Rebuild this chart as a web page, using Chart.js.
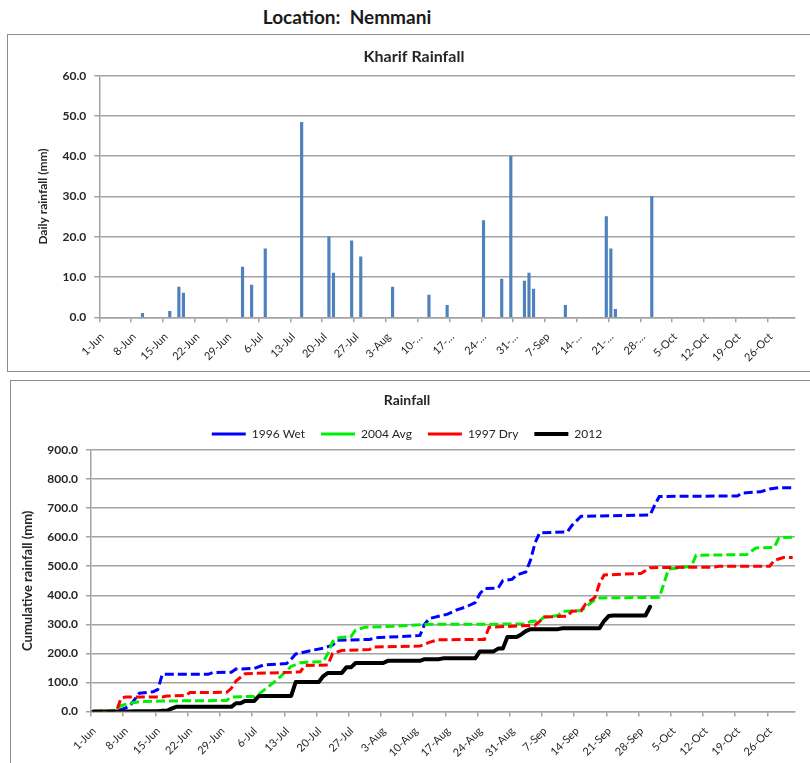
<!DOCTYPE html>
<html>
<head>
<meta charset="utf-8">
<title>Location: Nemmani</title>
<script src="https://cdn.jsdelivr.net/npm/chart.js@4.4.0/dist/chart.umd.min.js"></script>
<style>
    body { margin: 0; width: 810px; height: 763px; overflow: hidden; position: relative; background: #fff; font-family: Lato, sans-serif; }
    #location { position: absolute; left: 0; top: 5px; width: 694px; text-align: center; font-weight: bold; font-size: 19px; color: #1a1a1a; }
    .panel { position: absolute; box-sizing: border-box; border: 1px solid #8c8c8c; }
    #topPanel { left: 7px; top: 34px; width: 830px; height: 338px; }
    #bottomPanel { left: 10px; top: 380px; width: 830px; height: 420px; }
    canvas { position: absolute; }
</style>
</head>
<body>
<div id="location">Location:&nbsp; Nemmani</div>
<div class="panel" id="topPanel"></div>
<div class="panel" id="bottomPanel"></div>
<canvas id="dailyChart" width="802" height="336" style="left:8px; top:35px"></canvas>
<canvas id="cumulativeChart" width="799" height="382" style="left:11px; top:381px"></canvas>
<script>
// x values are days after 1-Jun (1-Jun = 0), season runs to 31-Oct
const dailyTickLabels = ['1-Jun', '8-Jun', '15-Jun', '22-Jun', '29-Jun', '6-Jul', '13-Jul', '20-Jul', '27-Jul', '3-Aug',
    '10-…', '17-…', '24-…', '31-…', '7-Sep', '14-…', '21-…', '28-…', '5-Oct', '12-Oct', '19-Oct', '26-Oct'];
const cumTickLabels = ['1-Jun', '8-Jun', '15-Jun', '22-Jun', '29-Jun', '6-Jul', '13-Jul', '20-Jul', '27-Jul', '3-Aug',
    '10-Aug', '17-Aug', '24-Aug', '31-Aug', '7-Sep', '14-Sep', '21-Sep', '28-Sep', '5-Oct', '12-Oct', '19-Oct', '26-Oct'];

// 2012 daily rainfall (mm)
const rainDay2012 = [9, 15, 17, 18, 31, 33, 36, 44, 50, 51, 55, 57, 64, 72, 76, 84, 88, 90, 93, 94, 95, 102, 111, 112, 113, 121];
const rainMm2012 = [1.0, 1.5, 7.5, 6.0, 12.5, 8.0, 17.0, 48.4, 20.0, 11.0, 19.0, 15.0, 7.5, 5.5, 3.0, 24.0, 9.5, 40.0, 9.0, 11.0, 7.0, 3.0, 25.0, 17.0, 2.0, 30.0];

// cumulative rainfall (mm), read at the corners of each curve
const wet1996Day = [0, 5, 7, 8, 10, 13, 14, 15, 25, 26, 30, 31, 35, 37, 42, 43, 44, 46, 48, 50, 52, 53, 60, 62, 67, 71, 72, 73, 77, 79,
    81, 83, 84, 85, 88, 89, 91, 92, 94, 95, 96, 97, 103, 104, 106, 121, 122, 123, 140, 141, 145, 147, 149, 152];
const wet1996Cum = [0, 0, 12, 20, 63, 68, 75, 128, 128, 134, 135, 146, 148, 160, 165, 180, 198, 205, 212, 218, 228, 245, 248, 255, 258, 262, 300, 320, 335, 350,
    360, 375, 405, 423, 425, 450, 455, 470, 480, 520, 580, 615, 618, 640, 672, 676, 710, 740, 742, 752, 756, 766, 770, 770];

const avg2004Day = [0, 3, 5, 6, 8, 10, 15, 29, 30, 35, 36, 38, 40, 41, 43, 45, 50, 51, 52, 53, 56, 57, 59, 65, 73, 94, 95, 97, 98, 101,
    102, 106, 107, 109, 110, 123, 124, 125, 130, 131, 142, 144, 148, 149, 152];
const avg2004Cum = [0, 2, 5, 20, 28, 34, 36, 38, 50, 52, 60, 85, 110, 125, 155, 168, 172, 200, 240, 253, 258, 280, 290, 293, 300, 301, 310, 312, 325, 330,
    345, 347, 360, 385, 391, 393, 440, 490, 500, 538, 540, 563, 565, 598, 600];

const dry1997Day = [0, 5, 6, 7, 15, 16, 20, 21, 29, 30, 31, 33, 43, 45, 46, 51, 52, 54, 60, 61, 71, 73, 75, 85, 86, 96, 97, 98, 103, 104,
    106, 107, 109, 110, 111, 119, 121, 135, 136, 147, 148, 150, 152];
const dry1997Cum = [0, 0, 45, 50, 50, 53, 55, 65, 66, 80, 105, 130, 135, 137, 158, 160, 200, 210, 213, 222, 225, 238, 247, 248, 290, 297, 310, 325, 328, 345,
    347, 370, 392, 440, 470, 475, 495, 497, 500, 500, 520, 530, 530];

const cum2012Day = [0, 8, 9, 14, 15, 16, 17, 18, 30, 31, 32, 33, 35, 36, 43, 44, 49, 50, 51, 54, 55, 56, 57, 63, 64, 71, 72, 75, 76, 83,
    84, 87, 88, 89, 90, 92, 93, 94, 95, 101, 102, 110, 111, 112, 113, 120, 121];
const cum2012 = [0, 0, 1, 1, 2.5, 2.5, 10, 16, 16, 28.5, 28.5, 36.5, 36.5, 53.5, 53.5, 101.9, 101.9, 121.9, 132.9, 132.9, 151.9, 151.9, 166.9, 166.9, 174.4, 174.4, 179.9, 179.9, 182.9, 182.9,
    206.9, 206.9, 216.4, 216.4, 256.4, 256.4, 265.4, 276.4, 283.4, 283.4, 286.4, 286.4, 311.4, 328.4, 330.4, 330.4, 360.4];

Chart.defaults.font.family = 'Lato, sans-serif';
Chart.defaults.color = '#262626';
const gridGray = '#a3a3a3';

// points sit in the middle of their day
const toPoints = (days, values) => days.map((d, i) => ({ x: d + 0.5, y: values[i] }));

// weekly date axis shared by both charts
function seasonAxis(labels, axisHeight) {
    return {
        type: 'linear',
        min: 0,
        max: 153,
        offset: false,
        afterBuildTicks: axis => { axis.ticks = labels.map((_, i) => ({ value: i * 7 })); },
        afterFit: scale => { scale.height = axisHeight; },
        ticks: {
            autoSkip: false,
            minRotation: 45,
            maxRotation: 45,
            padding: 8,
            labelOffset: 3,
            font: { size: 11 },
            callback: (value, index) => labels[index]
        },
        grid: { drawOnChartArea: false, offset: false, tickLength: 5, color: gridGray, lineWidth: 1.5 },
        border: { color: gridGray, width: 1.5 }
    };
}

function valueAxis(max, step, axisWidth, title, titleSize, titlePad) {
    return {
        min: 0,
        max: max,
        afterFit: scale => { scale.width = axisWidth; },
        ticks: { stepSize: step, padding: 8, font: { size: 12, weight: 'bold' }, callback: v => v.toFixed(1) },
        grid: { color: gridGray, lineWidth: 1.5, tickLength: 5 },
        border: { color: gridGray, width: 1.5 },
        title: { display: true, text: title, font: { size: titleSize, weight: 'bold' }, padding: { top: titlePad, bottom: 0 } }
    };
}

// Kharif daily rainfall
new Chart(document.getElementById('dailyChart'), {
    type: 'bar',
    data: {
        datasets: [{
            label: 'Daily rainfall',
            data: toPoints(rainDay2012, rainMm2012),
            backgroundColor: '#4f81bd',
            barThickness: 2.5
        }]
    },
    options: {
        responsive: false,
        animation: false,
        layout: { padding: { left: 25, right: 15 } },
        plugins: {
            legend: { display: false },
            tooltip: { enabled: false },
            title: { display: true, text: 'Kharif Rainfall', font: { size: 16, weight: 'bold' }, padding: { top: 12.4, bottom: 9.1 } }
        },
        scales: {
            x: seasonAxis(dailyTickLabels, 53.7),
            y: valueAxis(60, 10, 66.3, 'Daily rainfall (mm)', 12, 2.8)
        }
    }
});

// cumulative rainfall, wet / average / dry years against 2012
const dashed = { borderWidth: 3, borderDash: [9, 4], pointRadius: 0, fill: false, tension: 0 };
new Chart(document.getElementById('cumulativeChart'), {
    type: 'line',
    data: {
        datasets: [
            { ...dashed, label: '1996 Wet', data: toPoints(wet1996Day, wet1996Cum), borderColor: '#0000ff', backgroundColor: '#0000ff', order: 4 },
            { ...dashed, label: '2004 Avg', data: toPoints(avg2004Day, avg2004Cum), borderColor: '#00ee00', backgroundColor: '#00ee00', order: 3 },
            { ...dashed, label: '1997 Dry', data: toPoints(dry1997Day, dry1997Cum), borderColor: '#ff0000', backgroundColor: '#ff0000', order: 2 },
            { label: '2012', data: toPoints(cum2012Day, cum2012), borderColor: '#000', backgroundColor: '#000', borderWidth: 4,
              borderCapStyle: 'round', borderJoinStyle: 'round', pointRadius: 0, fill: false, tension: 0, order: 1 }
        ]
    },
    options: {
        responsive: false,
        animation: false,
        layout: { padding: { left: 8, right: 15 } },
        plugins: {
            tooltip: { enabled: false },
            title: { display: true, text: 'Rainfall', font: { size: 14, weight: 'bold' }, padding: { top: 10.6, bottom: 3.6 } },
            legend: {
                labels: {
                    usePointStyle: true,
                    pointStyle: 'line',
                    pointStyleWidth: 34,
                    padding: 16,
                    font: { size: 12 },
                    sort: (a, b) => a.datasetIndex - b.datasetIndex
                }
            }
        },
        scales: {
            x: seasonAxis(cumTickLabels, 51.5),
            y: valueAxis(900, 100, 72, 'Cumulative rainfall (mm)', 13, 0.7)
        }
    }
});
</script>
</body>
</html>
